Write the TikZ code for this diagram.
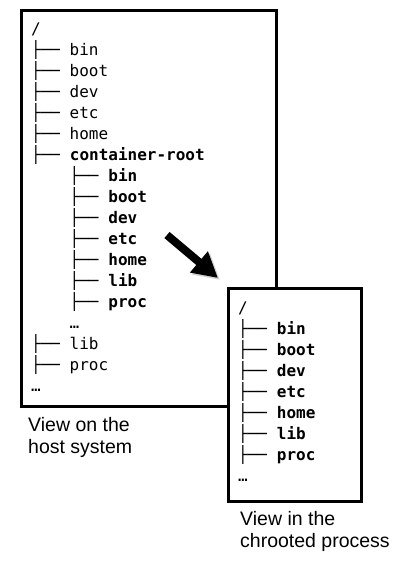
\documentclass[tikz,border=0pt]{standalone}
\usepackage{fontspec}
\setmainfont{Liberation Sans}
\newfontfamily\treefont{DejaVu Sans Mono}
\usetikzlibrary{arrows.meta,positioning}
\tikzset{
    fsBox/.style={
        rectangle,
        draw=black,
        line width=2.6pt,
        fill=white,
        anchor=north west,
        inner sep=0pt
    },
    fsLine/.style={
        font=\treefont\fontsize{16pt}{16pt}\selectfont,
        anchor=west,
        inner sep=0pt,
        text height=11pt,
        text depth=3pt
    },
    fsCaption/.style={
        font=\fontsize{19.5pt}{22pt}\selectfont,
        align=left,
        anchor=north west,
        inner sep=0pt
    },
    % Arrows
    chrootArrow/.style={-{Triangle[length=25pt,width=26pt]}, line width=8pt, draw=black}
}

\begin{document}
\begin{tikzpicture}[x=1pt, y=-1pt]
    \useasboundingbox (0,0) rectangle (408,574);

    % Host view
    \node[fsBox, minimum width=255pt, minimum height=396pt] (hostBox) at (20,9) {};
    \node[fsLine] (hRoot) at (31,30) {/};
    \node[fsLine] (hBin) at (31,51) {├── bin};
    \node[fsLine] (hBoot) at (31,72) {├── boot};
    \node[fsLine] (hDev) at (31,93) {├── dev};
    \node[fsLine] (hEtc) at (31,114) {├── etc};
    \node[fsLine] (hHome) at (31,135) {├── home};
    \node[fsLine] (hCroot) at (31,156) {├── \textbf{container-root}};
    \node[fsLine] (cBin) at (69.5,177) {├── \textbf{bin}};
    \node[fsLine] (cBoot) at (69.5,198) {├── \textbf{boot}};
    \node[fsLine] (cDev) at (69.5,219) {├── \textbf{dev}};
    \node[fsLine] (cEtc) at (69.5,240) {├── \textbf{etc}};
    \node[fsLine] (cHome) at (69.5,261) {├── \textbf{home}};
    \node[fsLine] (cLib) at (69.5,282) {├── \textbf{lib}};
    \node[fsLine] (cProc) at (69.5,303) {├── \textbf{proc}};
    \node[fsLine] (cMore) at (69.5,324) {…};
    \node[fsLine] (hLib) at (31,345) {├── lib};
    \node[fsLine] (hProc) at (31,366) {├── proc};
    \node[fsLine] (hMore) at (31,387) {…};

    % Chrooted view
    \node[fsBox, minimum width=133pt, minimum height=213pt] (chrootBox) at (227,287) {};
    \node[fsLine] (rRoot) at (238,309) {/};
    \node[fsLine] (rBin) at (238,330) {├── \textbf{bin}};
    \node[fsLine] (rBoot) at (238,351) {├── \textbf{boot}};
    \node[fsLine] (rDev) at (238,372) {├── \textbf{dev}};
    \node[fsLine] (rEtc) at (238,393) {├── \textbf{etc}};
    \node[fsLine] (rHome) at (238,414) {├── \textbf{home}};
    \node[fsLine] (rLib) at (238,435) {├── \textbf{lib}};
    \node[fsLine] (rProc) at (238,456) {├── \textbf{proc}};
    \node[fsLine] (rMore) at (238,477) {…};

    % Arrow
    \coordinate (arrowTail) at (167,235);
    \coordinate (arrowTip) at (218,278);
    \draw[chrootArrow, draw=black!30, opacity=0.6] ([shift={(2,2)}]arrowTail) -- ([shift={(2,2)}]arrowTip);
    \draw[chrootArrow] (arrowTail) -- (arrowTip);

    % Captions
    \node[fsCaption] (hostCaption) at (28,417) {View on the\\host system};
    \node[fsCaption] (chrootCaption) at (240,511) {View in the\\chrooted process};
\end{tikzpicture}
\end{document}
